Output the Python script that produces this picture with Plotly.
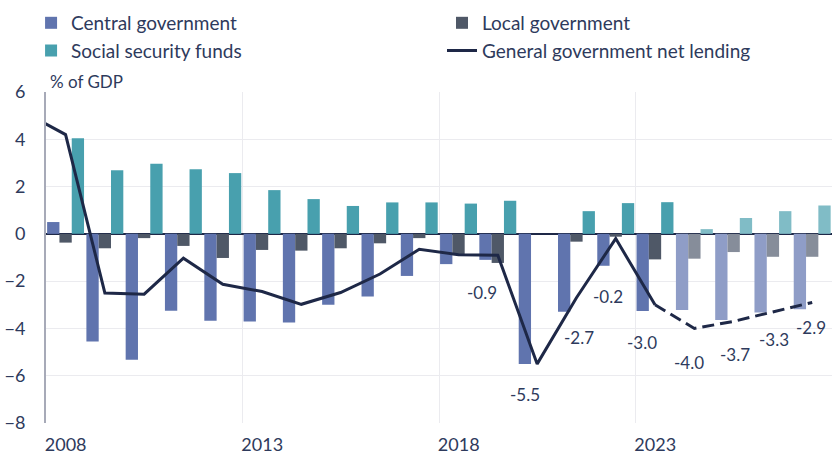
import plotly.graph_objects as go

# ---- data ----
years = list(range(2008, 2028))
central_gov = [0.5, -4.55, -5.33, -3.25, -3.68, -3.71, -3.75, -3.0, -2.65, -1.78,
               -1.28, -1.1, -5.5, -3.29, -1.35, -3.26, -3.22, -3.64, -3.33, -3.19]
local_gov = [-0.37, -0.61, -0.18, -0.51, -1.02, -0.68, -0.71, -0.61, -0.40, -0.18,
             -0.9, -1.23, 0.0, -0.33, -0.12, -1.08, -1.05, -0.77, -0.97, -0.97]
social_sec = [4.04, 2.69, 2.96, 2.73, 2.57, 1.85, 1.47, 1.18, 1.33, 1.33,
              1.28, 1.4, 0.0, 0.96, 1.3, 1.34, 0.2, 0.67, 0.96, 1.2]
line_years = list(range(2007, 2028))
net_lending = [5.1, 4.2, -2.5, -2.55, -1.03, -2.13, -2.44, -2.98, -2.48, -1.7, -0.65,
               -0.88, -0.9, -5.5, -2.7, -0.2, -3.0, -4.0, -3.7, -3.3, -2.9]
last_actual = 2023
label_years = [2019, 2020, 2021, 2022, 2023, 2024, 2025, 2026, 2027]
y_ticks = [6, 4, 2, 0, -2, -4, -6, -8]

# ---- styles ----
FONT = "Lato"
TXT = "#2E3A5C"
C_CENTRAL = ("#6074AE", "#8F9DC7")
C_LOCAL = ("#4F5867", "#868D9A")
C_SOCIAL = ("#48A0AE", "#80BCC6")
C_LINE = "#1E2847"
# label offsets in px (dx, dy) relative to the line point
label_offsets = [(-16, -37), (-12, -31), (3, -40), (-8, -58), (-13, -38),
                 (-5, -34), (1, -33), (1, -28), (-1, -25)]


def d(y):
    return f"{y}-07-01"


def colors(pair):
    return [pair[0] if y <= last_actual else pair[1] for y in years]


xd = [d(y) for y in years]
fig = go.Figure()
fig.add_trace(go.Bar(x=xd, y=central_gov, name="Central government", legend="legend",
                     legendrank=1,
                     marker=dict(color=colors(C_CENTRAL), line=dict(width=0))))
fig.add_trace(go.Bar(x=xd, y=local_gov, name="Local government", legend="legend2",
                     legendrank=1,
                     marker=dict(color=colors(C_LOCAL), line=dict(width=0))))
fig.add_trace(go.Bar(x=xd, y=social_sec, name="Social security funds", legend="legend",
                     legendrank=2,
                     marker=dict(color=colors(C_SOCIAL), line=dict(width=0))))

solid_x = [d(y) for y in line_years if y <= last_actual]
solid_y = [v for y, v in zip(line_years, net_lending) if y <= last_actual]
dash_x = [d(y) for y in line_years if y >= last_actual]
dash_y = [v for y, v in zip(line_years, net_lending) if y >= last_actual]
fig.add_trace(go.Scatter(x=solid_x, y=solid_y, mode="lines", legend="legend2",
                         legendrank=2,
                         name="General government net lending",
                         line=dict(color=C_LINE, width=3)))
fig.add_trace(go.Scatter(x=dash_x, y=dash_y, mode="lines", showlegend=False,
                         line=dict(color=C_LINE, width=3, dash="12px,6px")))

annotations = []
for (yr, (dx, dy)) in zip(label_years, label_offsets):
    v = net_lending[line_years.index(yr)]
    annotations.append(dict(x=d(yr), y=v, xref="x", yref="y", text=f"{v:.1f}",
                            showarrow=False, xshift=dx, yshift=dy,
                            font=dict(family=FONT, size=17, color=TXT)))
annotations.append(dict(x=0, y=1, xref="paper", yref="paper", text="% of GDP",
                        xanchor="left", yanchor="bottom", showarrow=False,
                        xshift=2, yshift=-2,
                        font=dict(family=FONT, size=17, color=TXT)))

leg_common = dict(orientation="v", yanchor="top", itemwidth=30,
                  font=dict(family=FONT, size=19, color=TXT),
                  bgcolor="rgba(0,0,0,0)", tracegroupgap=0)

fig.update_layout(
    width=832, height=458,
    margin=dict(l=46, r=0, t=92, b=35, autoexpand=False),
    paper_bgcolor="white", plot_bgcolor="white",
    barmode="group", bargap=0.06, bargroupgap=0,
    font=dict(family=FONT, size=17, color=TXT),
    showlegend=True,
    legend=dict(x=-0.019, y=1.266, xanchor="left", **leg_common),
    legend2=dict(x=0.5038, y=1.266, xanchor="left", **leg_common),
    annotations=annotations,
    xaxis=dict(type="date", range=["2008-01-01", "2028-01-01"],
               tick0="2008-01-01", dtick="M60", ticklabelmode="period",
               tickformat="%Y", showgrid=True, gridcolor="#EBEBEF", gridwidth=1,
               showline=False, zeroline=False, ticks="",
               ticklabelstandoff=9,
               tickfont=dict(family=FONT, size=18, color=TXT)),
    yaxis=dict(range=[-8, 6], tickvals=y_ticks, showgrid=True,
               gridcolor="#EBEBEF", gridwidth=1, zeroline=True,
               zerolinecolor=C_LINE, zerolinewidth=2, showline=True,
               linecolor="#A7AAB8", linewidth=2, ticks="",
               ticklabelstandoff=15,
               tickfont=dict(family=FONT, size=18, color=TXT)),
)

fig.write_html("out.html", config={"displayModeBar": False},
               post_script="document.body.style.margin='0px';")
